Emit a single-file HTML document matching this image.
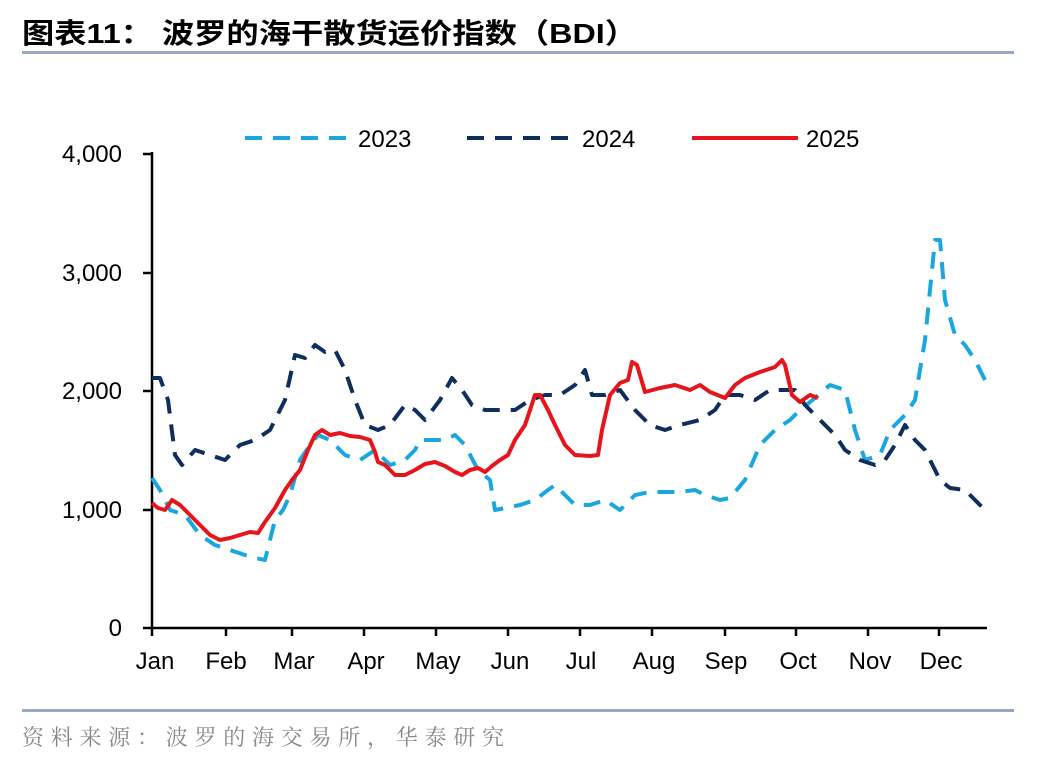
<!DOCTYPE html><html><head><meta charset="utf-8"><style>body{margin:0;background:#fff}svg{display:block}</style></head><body>
<svg width="1048" height="760" xmlns="http://www.w3.org/2000/svg" font-family="Liberation Sans, Arial, sans-serif">
<text x="22" y="43" font-size="28" font-weight="bold" font-family="Liberation Sans, Noto Sans CJK SC, sans-serif" fill="#000" textLength="615" lengthAdjust="spacingAndGlyphs">图表11：  波罗的海干散货运价指数（BDI）</text>
<rect x="22" y="51" width="992" height="3" fill="#98AAC2"/>
<rect x="22" y="709" width="992" height="3" fill="#98AAC2"/>
<text x="22" y="745" font-size="22" font-family="Noto Serif CJK SC, serif" fill="#888" textLength="482" lengthAdjust="spacing">资料来源：波罗的海交易所，华泰研究</text>
<g font-size="24" fill="#000" text-anchor="end">
<text x="122" y="162">4,000</text><text x="122" y="281">3,000</text><text x="122" y="399">2,000</text><text x="122" y="518">1,000</text><text x="122" y="636">0</text>
</g>
<g stroke="#000" stroke-width="2.5">
<line x1="152" y1="152" x2="152" y2="628"/><line x1="143" y1="154" x2="152" y2="154"/><line x1="143" y1="273" x2="152" y2="273"/><line x1="143" y1="391" x2="152" y2="391"/><line x1="143" y1="510" x2="152" y2="510"/>
<line x1="143" y1="628" x2="987" y2="628"/>
<path d="M152 628v8M226 628v8M292 628v8M364 628v8M436 628v8M508 628v8M580 628v8M652 628v8M725 628v8M796 628v8M868 628v8M939 628v8"/>
</g>
<g font-size="24" fill="#000" text-anchor="middle">
<text x="155" y="669">Jan</text><text x="226" y="669">Feb</text><text x="294" y="669">Mar</text><text x="366" y="669">Apr</text><text x="438" y="669">May</text><text x="510" y="669">Jun</text><text x="581" y="669">Jul</text><text x="654" y="669">Aug</text><text x="726" y="669">Sep</text><text x="798" y="669">Oct</text><text x="870" y="669">Nov</text><text x="941" y="669">Dec</text>
</g>
<g fill="none" stroke-width="4" stroke-linejoin="round">
<polyline stroke="#1AA7E0" stroke-dasharray="17,11" points="152,478 160,490 170,510 185,515 200,535 215,545 230,550 245,555 255,558 265,560 270,540 275,520 283,510 290,495 300,460 310,445 318,435 330,440 345,455 360,460 375,450 390,465 405,460 415,450 420,440 430,440 445,440 455,435 465,445 478,470 490,480 495,510 505,508 520,505 535,500 548,490 555,485 565,495 575,505 590,505 605,500 620,510 635,495 650,492 680,492 695,490 705,495 720,500 730,498 745,480 760,445 775,430 790,420 800,410 815,398 830,385 845,390 855,430 865,460 880,455 890,430 905,415 915,400 925,340 935,240 940,240 945,300 955,335 965,345 975,360 985,380"/>
<polyline stroke="#0E2F5E" stroke-dasharray="17,11" points="152,378 160,378 168,400 175,455 182,465 195,450 210,455 225,460 240,445 255,440 270,430 285,400 295,355 305,358 315,345 325,352 335,350 345,370 355,400 365,425 378,430 390,425 405,405 415,410 425,420 440,400 452,378 462,390 472,405 485,410 500,410 515,410 530,400 545,395 560,395 575,385 585,370 592,395 605,395 620,390 635,410 650,425 665,430 680,425 700,420 715,410 725,395 740,395 755,400 770,390 780,390 795,390 805,405 820,420 835,435 845,450 860,460 875,465 885,460 895,445 905,425 915,440 925,450 935,470 940,480 950,488 965,490 975,500 985,510"/>
<polyline stroke="#E8141B" points="152,503 158,508 165,510 172,500 180,505 190,515 200,525 210,535 220,540 230,538 240,535 250,532 258,533 265,522 275,508 285,490 292,480 300,470 308,450 315,435 322,430 330,435 340,433 350,436 360,437 370,440 375,452 378,462 385,465 395,475 405,475 415,470 425,464 435,462 445,466 455,472 462,475 470,470 478,468 485,472 492,466 500,460 508,455 515,440 525,425 535,395 540,395 548,410 555,425 565,445 575,455 590,456 598,455 602,430 610,395 620,383 628,380 632,362 637,365 645,392 660,388 675,385 690,390 700,385 710,392 725,398 735,385 745,378 760,372 775,367 782,360 785,365 792,395 800,402 810,395 818,398"/>
<line x1="245" y1="138" x2="350" y2="138" stroke="#1AA7E0" stroke-dasharray="17,11"/>
<line x1="467" y1="138" x2="575" y2="138" stroke="#0E2F5E" stroke-dasharray="17,11"/>
<line x1="692" y1="138" x2="798" y2="138" stroke="#E8141B"/>
</g>
<g font-size="24" fill="#000"><text x="358" y="147">2023</text><text x="582" y="147">2024</text><text x="806" y="147">2025</text></g>
</svg></body></html>
